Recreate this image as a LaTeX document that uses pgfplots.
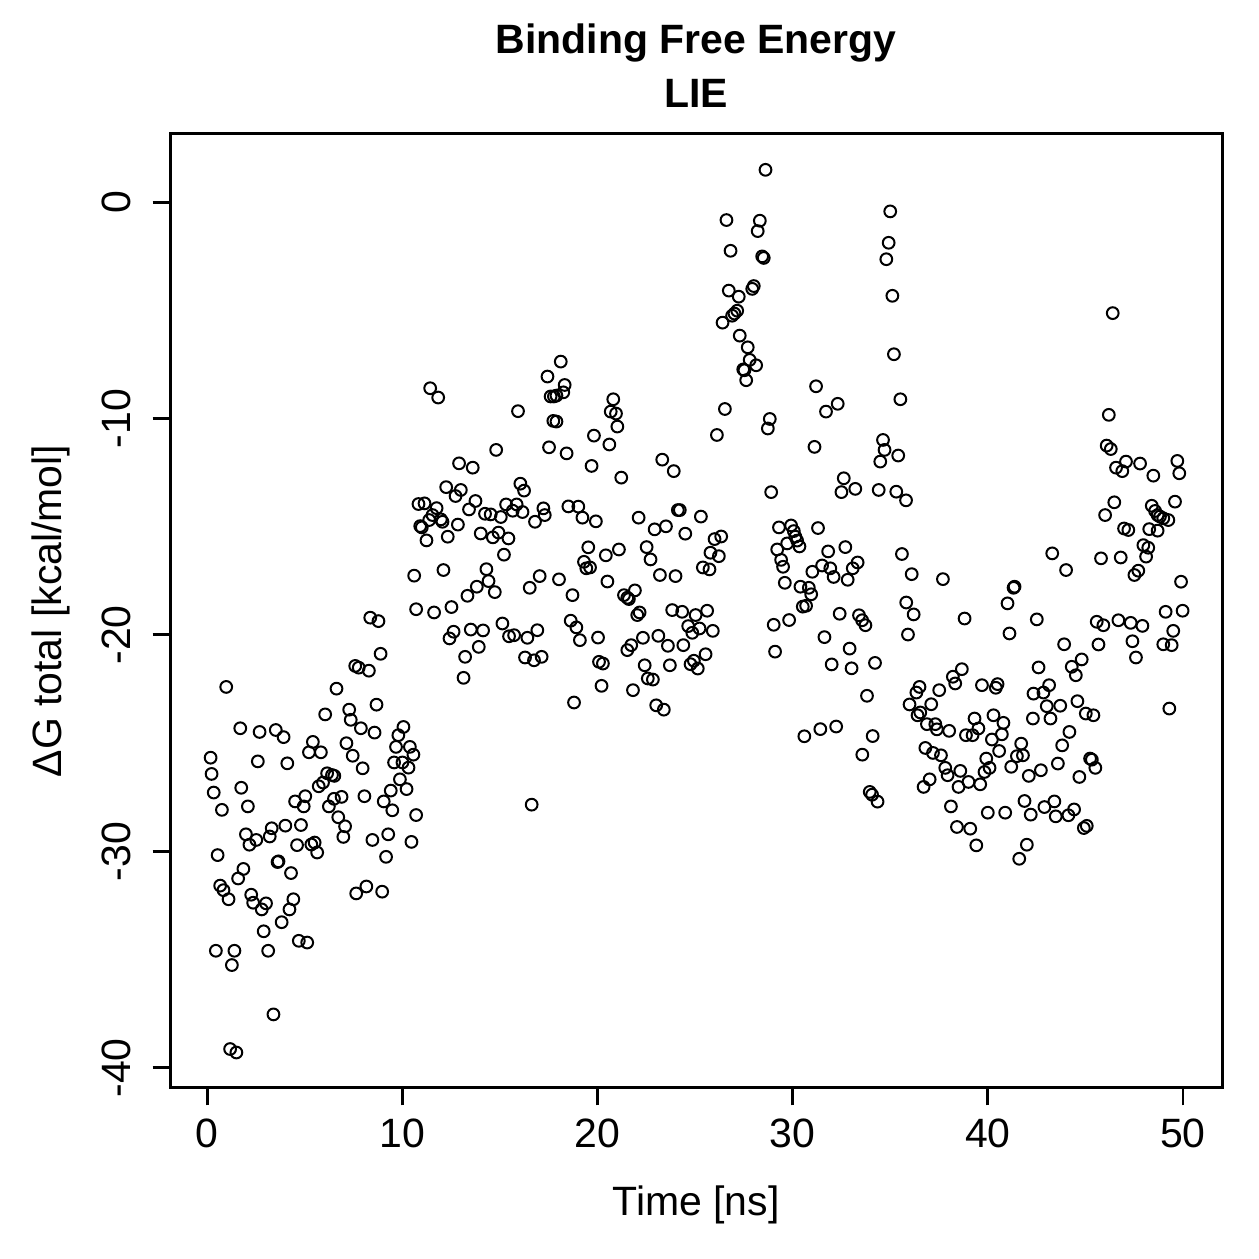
\documentclass[border=0pt]{standalone}
\usepackage{pgfplots}
\pgfplotsset{compat=1.18}
\usetikzlibrary{calc}
\usepackage{fontspec}
\setmainfont{Liberation Sans}

% LIE binding free energy per frame: time [ns], Delta G total [kcal/mol]
\pgfplotstableread{
t dg
0.18 -25.67
0.23 -26.42
0.34 -27.28
0.54 -30.17
0.45 -34.59
0.67 -31.58
0.76 -28.08
0.84 -31.79
0.98 -22.40
1.10 -32.21
1.18 -39.13
1.27 -35.25
1.40 -34.59
1.50 -39.29
1.59 -31.25
1.70 -24.31
1.75 -27.06
1.86 -30.81
1.99 -29.21
2.09 -27.92
2.17 -29.69
2.26 -32.00
2.36 -32.37
2.52 -29.47
2.60 -25.84
2.69 -24.48
2.80 -32.68
2.90 -33.69
3.02 -32.40
3.13 -34.59
3.21 -29.31
3.31 -28.93
3.40 -37.53
3.52 -24.39
3.61 -30.49
3.66 -30.46
3.82 -33.27
3.92 -24.72
4.01 -28.81
4.11 -25.93
4.22 -32.68
4.30 -31.00
4.42 -32.21
4.51 -27.69
4.61 -29.71
4.70 -34.13
4.81 -28.78
4.95 -27.92
5.03 -27.45
5.13 -34.21
5.22 -25.42
5.34 -29.68
5.42 -24.94
5.51 -29.59
5.64 -30.05
5.72 -26.99
5.83 -25.42
5.94 -26.82
6.05 -23.67
6.15 -26.39
6.24 -27.92
6.40 -26.47
6.50 -27.57
6.52 -26.51
6.63 -22.48
6.72 -28.42
6.89 -27.48
6.98 -29.33
7.07 -28.84
7.14 -25.00
7.28 -23.45
7.36 -23.92
7.46 -25.58
7.59 -21.43
7.64 -31.94
7.77 -21.51
7.88 -24.31
7.97 -26.16
8.06 -27.45
8.16 -31.62
8.29 -21.65
8.36 -19.20
8.47 -29.47
8.58 -24.51
8.68 -23.22
8.78 -19.36
8.89 -20.87
8.97 -31.86
9.05 -27.69
9.17 -30.25
9.28 -29.21
9.41 -27.19
9.49 -28.10
9.58 -25.89
9.68 -25.17
9.80 -24.63
9.88 -26.67
10.01 -25.89
10.06 -24.25
10.22 -27.12
10.32 -26.13
10.39 -25.17
10.47 -29.56
10.57 -25.53
10.71 -28.32
10.61 -17.26
10.71 -18.81
10.83 -13.95
10.92 -14.97
11.00 -15.03
11.14 -13.92
11.24 -15.63
11.38 -14.69
11.43 -8.60
11.55 -14.46
11.63 -18.96
11.76 -14.14
11.84 -9.03
11.98 -14.66
12.06 -14.77
12.11 -17.00
12.25 -13.17
12.33 -15.46
12.42 -20.16
12.52 -18.71
12.63 -19.85
12.73 -13.58
12.85 -14.90
12.91 -12.07
13.00 -13.30
13.14 -21.98
13.22 -21.01
13.34 -18.19
13.42 -14.20
13.51 -19.75
13.61 -12.27
13.75 -13.81
13.82 -17.77
13.92 -20.55
14.02 -15.31
14.14 -19.79
14.24 -14.40
14.31 -16.96
14.42 -17.51
14.53 -14.43
14.64 -15.49
14.74 -18.02
14.81 -11.45
14.93 -15.27
15.05 -14.55
15.13 -19.47
15.21 -16.29
15.32 -13.97
15.44 -15.54
15.47 -20.06
15.66 -14.26
15.73 -20.01
15.86 -13.97
15.93 -9.66
16.05 -13.01
16.16 -14.32
16.24 -13.33
16.29 -21.04
16.41 -20.13
16.53 -17.82
16.63 -27.84
16.75 -21.17
16.80 -14.77
16.92 -19.78
17.04 -17.28
17.14 -21.01
17.23 -14.15
17.30 -14.46
17.44 -8.06
17.52 -11.33
17.60 -8.98
17.74 -10.11
17.77 -8.98
17.90 -8.94
17.90 -10.14
18.03 -17.43
18.12 -7.37
18.25 -8.79
18.32 -8.45
18.42 -11.61
18.51 -14.06
18.63 -19.34
18.72 -18.16
18.80 -23.12
18.92 -19.65
19.02 -14.07
19.10 -20.24
19.23 -14.58
19.31 -16.62
19.43 -16.92
19.53 -15.95
19.62 -16.88
19.70 -12.19
19.82 -10.79
19.92 -14.75
20.03 -20.12
20.08 -21.24
20.21 -22.35
20.28 -21.32
20.43 -16.32
20.51 -17.53
20.61 -11.20
20.68 -9.68
20.81 -9.11
20.95 -9.77
21.02 -10.37
21.10 -16.05
21.22 -12.73
21.36 -18.16
21.53 -18.28
21.61 -18.34
21.53 -20.70
21.73 -20.47
21.82 -22.55
21.92 -17.94
22.04 -19.08
22.11 -14.58
22.16 -18.96
22.33 -20.13
22.42 -21.40
22.52 -15.94
22.58 -22.01
22.72 -16.51
22.84 -22.06
22.93 -15.12
23.01 -23.25
23.12 -20.04
23.20 -17.23
23.32 -11.90
23.40 -23.45
23.51 -14.98
23.61 -20.50
23.71 -21.40
23.83 -18.85
23.91 -12.43
24.00 -17.28
24.12 -14.23
24.22 -14.23
24.34 -18.93
24.40 -20.47
24.50 -15.32
24.65 -19.59
24.77 -21.35
24.86 -19.90
24.94 -21.19
25.03 -19.08
25.14 -21.55
25.23 -19.70
25.30 -14.53
25.40 -16.88
25.54 -20.89
25.62 -18.88
25.74 -16.97
25.79 -16.20
25.91 -19.81
26.00 -15.57
26.12 -10.76
26.22 -16.36
26.34 -15.45
26.41 -5.57
26.53 -9.56
26.61 -0.83
26.73 -4.09
26.82 -2.25
26.90 -5.25
27.02 -5.15
27.16 -5.02
27.24 -4.37
27.29 -6.17
27.47 -7.73
27.53 -7.77
27.62 -8.23
27.70 -6.71
27.80 -7.29
27.93 -4.01
28.01 -3.88
28.13 -7.54
28.21 -1.34
28.32 -0.86
28.44 -2.51
28.52 -2.58
28.61 1.49
28.73 -10.46
28.83 -10.02
28.90 -13.40
29.03 -19.53
29.10 -20.77
29.21 -16.05
29.30 -15.03
29.41 -16.53
29.51 -16.85
29.60 -17.59
29.72 -15.77
29.82 -19.31
29.92 -14.94
30.06 -15.20
30.14 -15.46
30.23 -15.64
30.35 -15.91
30.40 -17.77
30.52 -18.69
30.60 -24.68
30.69 -18.65
30.83 -17.82
30.95 -18.12
31.01 -17.08
31.12 -11.31
31.20 -8.51
31.30 -15.06
31.42 -24.35
31.51 -16.79
31.63 -20.10
31.71 -9.68
31.82 -16.14
31.93 -16.92
32.00 -21.36
32.10 -17.32
32.23 -24.23
32.31 -9.32
32.41 -19.02
32.50 -13.40
32.62 -12.76
32.70 -15.94
32.82 -17.45
32.92 -20.63
33.02 -21.54
33.08 -16.92
33.21 -13.25
33.33 -16.65
33.40 -19.09
33.56 -19.32
33.57 -25.53
33.73 -19.55
33.81 -22.81
33.95 -27.25
34.07 -27.38
34.10 -24.67
34.22 -21.29
34.35 -27.70
34.41 -13.30
34.49 -11.99
34.63 -10.99
34.71 -11.45
34.80 -2.64
34.92 -1.88
35.00 -0.43
35.11 -4.33
35.19 -7.03
35.31 -13.38
35.41 -11.71
35.52 -9.11
35.60 -16.26
35.81 -13.78
35.82 -18.50
35.91 -19.98
35.99 -23.21
36.10 -17.19
36.20 -19.05
36.34 -22.66
36.40 -23.71
36.50 -22.40
36.54 -23.58
36.71 -27.02
36.80 -25.22
36.88 -24.12
37.02 -26.67
37.10 -23.20
37.19 -25.45
37.31 -24.12
37.39 -24.36
37.51 -22.55
37.60 -25.56
37.70 -17.42
37.82 -26.14
37.94 -26.48
38.02 -24.43
38.11 -27.92
38.21 -21.93
38.33 -22.24
38.42 -28.87
38.50 -27.02
38.59 -26.28
38.67 -21.58
38.81 -19.24
38.88 -24.63
39.01 -26.79
39.10 -28.95
39.22 -24.63
39.32 -23.86
39.41 -29.72
39.52 -24.32
39.61 -26.90
39.70 -22.32
39.83 -26.33
39.92 -25.71
40.00 -28.21
40.09 -26.14
40.21 -24.83
40.29 -23.71
40.41 -22.44
40.50 -22.27
40.58 -25.36
40.72 -24.59
40.80 -24.06
40.89 -28.21
41.01 -18.54
41.11 -19.93
41.20 -26.09
41.32 -17.82
41.37 -17.77
41.49 -25.60
41.61 -30.34
41.71 -25.02
41.80 -25.56
41.88 -27.67
42.00 -29.69
42.10 -26.51
42.20 -28.30
42.31 -23.86
42.34 -22.71
42.51 -19.28
42.60 -21.50
42.72 -26.25
42.85 -22.66
42.90 -27.95
43.02 -23.29
43.14 -22.32
43.21 -23.86
43.30 -16.23
43.41 -27.69
43.48 -28.38
43.59 -25.94
43.71 -23.27
43.81 -25.10
43.91 -20.43
44.01 -17.00
44.13 -28.33
44.18 -24.48
44.30 -21.47
44.42 -28.06
44.51 -21.86
44.59 -23.06
44.69 -26.56
44.81 -21.13
44.92 -28.92
45.02 -23.63
45.07 -28.82
45.24 -25.71
45.33 -25.76
45.41 -23.71
45.51 -26.14
45.58 -19.39
45.67 -20.44
45.80 -16.46
45.92 -19.55
46.01 -14.46
46.09 -11.25
46.20 -9.83
46.30 -11.41
46.40 -5.13
46.48 -13.87
46.57 -12.27
46.69 -19.32
46.81 -16.42
46.89 -12.43
46.98 -15.08
47.08 -11.99
47.20 -15.15
47.32 -19.44
47.41 -20.29
47.51 -17.23
47.59 -21.04
47.71 -17.03
47.80 -12.08
47.92 -19.58
47.97 -15.85
48.11 -16.38
48.22 -15.97
48.27 -15.11
48.40 -14.03
48.48 -12.64
48.57 -14.27
48.70 -14.46
48.70 -15.18
48.82 -14.53
48.99 -14.61
48.99 -20.43
49.11 -18.93
49.25 -14.69
49.30 -23.40
49.42 -20.47
49.50 -19.81
49.59 -13.84
49.71 -11.96
49.81 -12.53
49.90 -17.54
49.98 -18.88
}\lietable

\begin{document}
\begin{tikzpicture}
\fontsize{16.4}{19.7}\selectfont
\begin{axis}[
  name=ax, at={(0,0)}, anchor=south west,
  scale only axis, width=421.1pt, height=381.9pt,
  xmin=-1.9, xmax=52, ymin=-40.93, ymax=3.15,
  axis line style={line width=1.2pt},
  tick pos=left, tick align=outside,
  major tick length=7pt,
  tick style={line width=1.2pt, black},
  xtick={0,10,20,30,40,50},
  xticklabels={0,10,20,30,40,50},
  ytick={-40,-30,-20,-10,0},
  yticklabels={-40,-30,-20,-10,0},
  xticklabel style={anchor=base, inner sep=0pt, font=\fontsize{16.4}{19.7}\selectfont},
  yticklabel style={rotate=90, anchor=base, inner sep=0pt, font=\fontsize{16.4}{19.7}\selectfont},
  xticklabel shift=17pt,
  yticklabel shift=9pt,
  clip=false,
]
\addplot[only marks, mark=o, mark size=2.35pt, mark options={line width=0.8pt, black}]
  table[x=t, y=dg] {\lietable};
\end{axis}
\node[anchor=base, font=\bfseries\fontsize{16.4}{19.7}\selectfont] at ($(ax.north)+(0,32pt)$) {Binding Free Energy};
\node[anchor=base, font=\bfseries\fontsize{16.4}{19.7}\selectfont] at ($(ax.north)+(0,10.7pt)$) {LIE};
\node[anchor=base] at ($(ax.south)+(0,-51.2pt)$) {Time [ns]};
\node[anchor=base, rotate=90] at ($(ax.west)+(-43.3pt,0)$) {ΔG total [kcal/mol]};
\pgfresetboundingbox
\path[use as bounding box] ($(ax.south west)+(-68.05pt,-68.45pt)$) rectangle ($(ax.north east)+(14.8pt,53.6pt)$);
\end{tikzpicture}
\end{document}
